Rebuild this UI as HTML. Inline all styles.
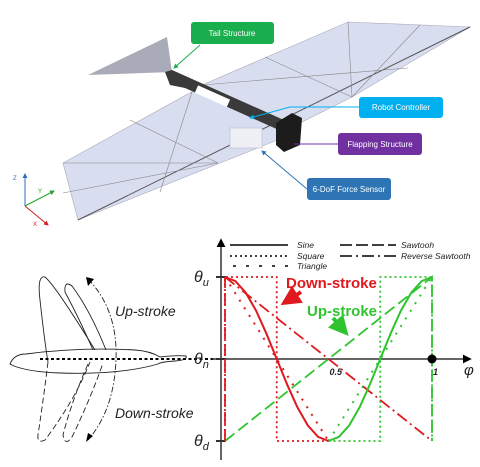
<!DOCTYPE html>
<html><head><meta charset="utf-8">
<style>
html,body{margin:0;padding:0;background:#fff;}
svg{display:block;font-family:"Liberation Sans",sans-serif;}
</style></head>
<body>
<svg width="480" height="467" viewBox="0 0 480 467">
<defs>
<marker id="ah" viewBox="0 0 10 10" refX="8" refY="5" markerWidth="5" markerHeight="5" orient="auto"><path d="M0,0L10,5L0,10z" fill="context-stroke"/></marker>
<marker id="ahk" viewBox="0 0 10 10" refX="8" refY="5" markerWidth="6" markerHeight="6" orient="auto"><path d="M0,0L10,5L0,10z" fill="#000"/></marker>
</defs>

<g>
  <polygon points="88,75 167,37 172,72" fill="#a9acb8"/>
  <polygon points="202,85 348,22 470,27 352,97 290,128" fill="#d9ddf0" stroke="#aab" stroke-width="0.6"/>
  <polygon points="195,90 63,163 78,220 290,135 262,118" fill="#d9ddf0" stroke="#aab" stroke-width="0.6"/>
  <line x1="78" y1="220" x2="470" y2="27" stroke="#555" stroke-width="1"/>
  <g stroke="#888" stroke-width="0.6" fill="none">
    <line x1="202" y1="85" x2="408" y2="68"/><line x1="348" y1="22" x2="352" y2="97"/>
    <line x1="265" y1="57" x2="352" y2="97"/><line x1="420" y1="25" x2="352" y2="97"/>
    <line x1="63" y1="163" x2="218" y2="163"/><line x1="63" y1="193" x2="218" y2="163"/>
    <line x1="130" y1="120" x2="218" y2="163"/><line x1="192" y1="92" x2="160" y2="192"/>
  </g>
  <polygon points="165,72 172,70 295,125 290,135 185,88 170,85" fill="#3a3a3a"/>
  <rect x="195" y="92" width="35" height="8" fill="#fff" transform="rotate(24 212 96)"/>
  <rect x="230" y="128" width="32" height="20" fill="#eef0f6" stroke="#bbc" stroke-width="0.6"/>
  <polygon points="276,123 292,113 302,118 300,145 284,152 276,145" fill="#1c1c1c"/>
</g>

<g font-size="6">
  <line x1="25" y1="206" x2="25" y2="174" stroke="#2e6fbf" stroke-width="1" marker-end="url(#ah)"/>
  <line x1="25" y1="206" x2="54" y2="191" stroke="#2aa02a" stroke-width="1" marker-end="url(#ah)"/>
  <line x1="25" y1="206" x2="48" y2="225" stroke="#d02020" stroke-width="1" marker-end="url(#ah)"/>
  <text x="13" y="180" fill="#2e6fbf">Z</text><text x="38" y="193" fill="#2aa02a">Y</text><text x="33" y="226" fill="#d02020">X</text>
</g>

<g font-size="8" fill="#fff" text-anchor="middle">
  <line x1="200" y1="45" x2="174" y2="68" stroke="#1aae4e" stroke-width="1" marker-end="url(#ah)"/>
  <rect x="191" y="22" width="83" height="22" rx="3" fill="#1aae4e"/>
  <text x="232" y="36">Tail Structure</text>
  <polyline points="359,107 290,107 250,118" fill="none" stroke="#00b0f0" stroke-width="1" marker-end="url(#ah)"/>
  <rect x="359" y="97" width="84" height="21" rx="3" fill="#00b0f0"/>
  <text x="401" y="110">Robot Controller</text>
  <line x1="338" y1="144" x2="294" y2="144" stroke="#7030a0" stroke-width="1"/>
  <rect x="338" y="133" width="84" height="22" rx="3" fill="#7030a0"/>
  <text x="380" y="147">Flapping Structure</text>
  <line x1="307" y1="189" x2="262" y2="151" stroke="#2e75b6" stroke-width="1" marker-end="url(#ah)"/>
  <rect x="307" y="178" width="84" height="22" rx="3" fill="#2e75b6"/>
  <text x="349" y="192">6-DoF Force Sensor</text>
</g>

<g fill="none" stroke="#222" stroke-width="0.9">
  <path d="M10,364 Q14,354 26,354 Q80,347 135,350 Q150,351 160,357 Q175,355 186,356 Q188,360 175,361 Q160,362 158,364 Q120,375 60,373 Q30,372 14,366 Z"/>
  <path d="M48,362 Q45,345 40,300 Q37,275 45,277 Q55,285 95,350"/>
  <path d="M93,350 Q80,320 65,292 Q64,280 72,286 Q90,310 106,350"/>
  <path stroke-dasharray="6,3" d="M48,362 Q44,395 38,435 Q37,444 45,440 Q75,400 90,362"/>
  <path stroke-dasharray="6,3" d="M88,364 Q72,400 63,435 Q65,447 72,437 Q90,400 103,363"/>
  <path stroke-dasharray="6,2,1.5,2" d="M88,279 Q118,310 116,360 Q114,410 88,440"/>
  <polygon points="86,277 94,279 88,286" fill="#000" stroke="none"/>
  <polygon points="86,442 93,436 88,433" fill="#000" stroke="none"/>
  <line x1="40" y1="359" x2="221" y2="359" stroke="#000" stroke-width="2" stroke-dasharray="3,2.5"/>
</g>
<text x="115" y="316" font-size="14" font-style="italic" fill="#222">Up-stroke</text>
<text x="115" y="418" font-size="14" font-style="italic" fill="#222">Down-stroke</text>

<g id="chart"></g>

<script>
const sinePhi = [0,0.05,0.1,0.15,0.2,0.25,0.3,0.35,0.4,0.45,0.5,0.55,0.6,0.65,0.7,0.75,0.8,0.85,0.9,0.95,1];
const sineVals = [1,0.95,0.81,0.59,0.31,0,-0.31,-0.59,-0.81,-0.95,-1,-0.95,-0.81,-0.59,-0.31,0,0.31,0.59,0.81,0.95,1];
const squareRedPhi = [0,0,0.25,0.25,0.5,0.5];
const squareRedVals = [-1,1,1,-1,-1,-1];
const squareGreenPhi = [0.5,0.5,0.75,0.75,1,1];
const squareGreenVals = [-1,-1,-1,1,1,-1];
const triRedPhi = [0,0.5]; const triRedVals = [1,-1];
const triGreenPhi = [0.5,1]; const triGreenVals = [-1,1];
const sawPhi = [0,1,1]; const sawVals = [-1,1,-1];
const revSawPhi = [0,1]; const revSawVals = [1,-1];
const revSawEdgePhi = [0,0]; const revSawEdgeVals = [-1,1];
const xTicks = [0.5,1]; const xTickLabels = ["0.5","1"];
const yTicks = [1,0,-1]; const yTickLabels = ["u","n","d"];

const NS="http://www.w3.org/2000/svg";
const g=document.getElementById('chart');
const X=p=>225+p*207, Y=v=>359-v*82;
function mk(t,a,parent){const e=document.createElementNS(NS,t);for(const k in a)e.setAttribute(k,a[k]);(parent||g).appendChild(e);return e;}
function poly(ph,vs,col,dash,name,w){
  const e=mk('polyline',{points:ph.map((p,i)=>X(p)+','+Y(vs[i])).join(' '),fill:'none',stroke:col,'stroke-width':w||2,'stroke-dasharray':dash||''});
  
  
}
const RED='#e0191e', GRN='#2fc42f';
let ax=mk('line',{x1:221,y1:460,x2:221,y2:240,stroke:'#333','stroke-width':1.5,'marker-end':'url(#ahk)'});


ax=mk('line',{x1:212,y1:359,x2:470,y2:359,stroke:'#333','stroke-width':1.5,'marker-end':'url(#ahk)'});


yTicks.forEach((v,i)=>{
  const t=mk('line',{x1:216,y1:Y(v),x2:226,y2:Y(v),stroke:'#333','stroke-width':2});
  
  
  const tx=mk('text',{x:194,y:Y(v)+5,'font-size':16,'font-style':'italic',fill:'#222'});
  
  
  tx.appendChild(document.createTextNode('θ'));
  const sub=mk('tspan',{'font-size':11,dy:4},tx);
  sub.textContent=yTickLabels[i];
});
xTicks.forEach((p,i)=>{
  const tx=mk('text',{x:X(p)+1,y:375,'font-size':9,'font-weight':'bold','font-style':'italic',fill:'#222'});
  
  
  tx.textContent=xTickLabels[i];
});
const ph=mk('text',{x:464,y:375,'font-size':15,'font-style':'italic',fill:'#222'});


ph.textContent='φ';
poly(squareRedPhi,squareRedVals,RED,'2,3','square-down',1.8);
poly(squareGreenPhi,squareGreenVals,GRN,'2,3','square-up',1.8);
poly(triRedPhi,triRedVals,RED,'2,7','triangle-down',2);
poly(triGreenPhi,triGreenVals,GRN,'2,7','triangle-up',2);
poly(sawPhi,sawVals,GRN,'12,5','sawtooth',1.8);
poly(revSawPhi,revSawVals,RED,'12,4,2,4','reverse-sawtooth',1.8);
poly(revSawEdgePhi,revSawEdgeVals,RED,'12,5','reverse-sawtooth-edge',1.8);
const sr=[],sg=[];
sinePhi.forEach((p,i)=>{ if(p<=0.5) sr.push(i); if(p>=0.5) sg.push(i); });
poly(sr.map(i=>sinePhi[i]),sr.map(i=>sineVals[i]),RED,'','sine-down',2);
poly(sg.map(i=>sinePhi[i]),sg.map(i=>sineVals[i]),GRN,'','sine-up',2);
const dot=mk('circle',{cx:X(1),cy:Y(0),r:4.5,fill:'#000'});


</script>

<g font-weight="bold" font-size="15">
  <text x="286" y="288" fill="#e0191e">Down-stroke</text>
  <line x1="301" y1="292" x2="284" y2="303" stroke="#e0191e" stroke-width="4" marker-end="url(#ah)"/>
  <text x="307" y="316" fill="#2fc42f">Up-stroke</text>
  <line x1="333" y1="318" x2="346" y2="333" stroke="#2fc42f" stroke-width="4" marker-end="url(#ah)"/>
</g>

<g font-size="8.5" font-style="italic" fill="#222" stroke-width="1.5">
  <line x1="230" y1="245" x2="288" y2="245" stroke="#000"/>
  <text x="297" y="248">Sine</text>
  <line x1="230" y1="256" x2="288" y2="256" stroke="#000" stroke-dasharray="2,3"/>
  <text x="297" y="259">Square</text>
  <line x1="233" y1="266" x2="288" y2="266" stroke="#000" stroke-dasharray="3,10"/>
  <text x="297" y="269">Triangle</text>
  <line x1="340" y1="245" x2="396" y2="245" stroke="#000" stroke-dasharray="12,4"/>
  <text x="401" y="248">Sawtooh</text>
  <line x1="340" y1="256" x2="396" y2="256" stroke="#000" stroke-dasharray="12,4,2,4"/>
  <text x="401" y="259">Reverse Sawtooth</text>
</g>
</svg>
</body></html>
